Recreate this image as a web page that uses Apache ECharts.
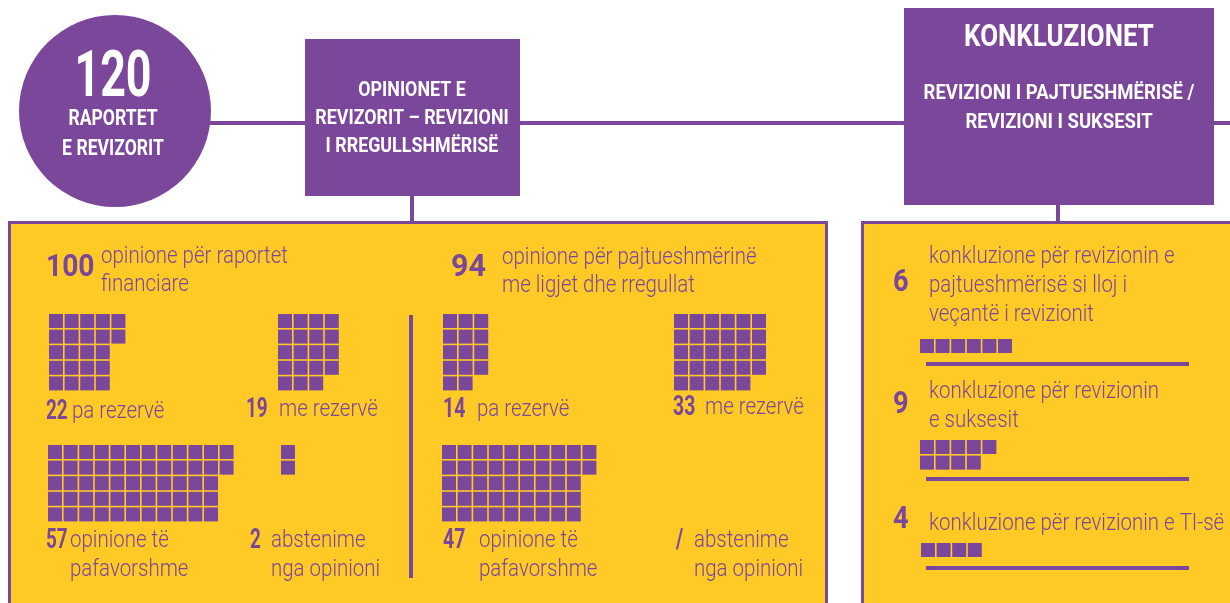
<!DOCTYPE html>
<html>
<head>
<meta charset="utf-8">
<script src="https://cdn.jsdelivr.net/npm/echarts@6/dist/echarts.min.js"></script>
<style>
  html, body { margin: 0; padding: 0; background: #fff; }
  #main { width: 1230px; height: 603px; }
</style>
</head>
<body>
<div id="main"></div>
<script>
// data
const totalReports = 120
const financialTotal = 100
const complianceTotal = 94
const opinionLabels = ['pa rezervë', 'me rezervë', 'opinione të\npafavorshme', 'abstenime\nnga opinioni']
const financialValues = [22, 19, 57, 2]
const financialSquares = [22, 19, 57, 2]
const complianceValues = ['14', '33', '47', '/']
const complianceSquares = [14, 29, 47, 0]   // squares actually drawn in the picture
const conclusionValues = [6, 9, 4]
const conclusionCols = [6, 5, 4]
const conclusionLabels = [
  'konkluzione për revizionin e\npajtueshmërisë si lloj i\nveçantë i revizionit',
  'konkluzione për revizionin\ne suksesit',
  'konkluzione për revizionin e TI-së'
]

const PURPLE = '#7B479B'
const YELLOW = '#FFC926'
const FONT = "Roboto, 'Noto Sans', sans-serif"
const PITCH = 15.6

let chart = echarts.init(document.getElementById('main'))

// waffle blocks: where each one sits
const waffles = [
  {n: financialSquares[0], x: 49, y: 314, rows: 5},
  {n: financialSquares[1], x: 278, y: 314, rows: 5},
  {n: financialSquares[2], x: 48, y: 445, rows: 5},
  {n: financialSquares[3], x: 281, y: 445, rows: 5},
  {n: complianceSquares[0], x: 443, y: 314, rows: 5},
  {n: complianceSquares[1], x: 674, y: 314, rows: 5},
  {n: complianceSquares[2], x: 442, y: 445, rows: 5},
  {n: conclusionValues[0], x: 920, y: 339, cols: conclusionCols[0]},
  {n: conclusionValues[1], x: 920, y: 440, cols: conclusionCols[1]},
  {n: conclusionValues[2], x: 921, y: 543, cols: conclusionCols[2]}
]

let grids = [], xAxes = [], yAxes = [], series = []
waffles.forEach((w, k) => {
  let pts = []
  let rows, cols
  if (w.rows) {
    rows = w.rows
    cols = Math.max(1, Math.ceil(w.n / rows))
    for (let i = 0; i < w.n; i++) pts.push([Math.floor(i / rows), i % rows])
  } else {
    cols = w.cols
    rows = Math.ceil(w.n / cols)
    for (let i = 0; i < w.n; i++) pts.push([i % cols, Math.floor(i / cols)])
  }
  grids.push({left: w.x + 7 - PITCH / 2, top: w.y + 7 - PITCH / 2, width: cols * PITCH, height: rows * PITCH})
  xAxes.push({type: 'value', gridIndex: k, min: -0.5, max: cols - 0.5, show: false})
  yAxes.push({type: 'value', gridIndex: k, min: -0.5, max: rows - 0.5, inverse: true, show: false})
  series.push({
    type: 'scatter', xAxisIndex: k, yAxisIndex: k, symbol: 'rect', symbolSize: 14,
    itemStyle: {color: PURPLE, opacity: 1}, silent: true, z: 10, data: pts
  })
})

// text squeezed horizontally to look like the narrow font of the original
function txt(x, y, text, size, opts) {
  opts = opts || {}
  return {
    type: 'text', z: 5, x: x, y: y, scaleX: opts.sx || 0.89,
    style: {
      x: 0, y: 0, text: text, fill: opts.fill || PURPLE,
      fontSize: size, fontWeight: opts.bold ? 'bold' : 300,
      fontFamily: FONT, align: opts.align || 'left',
      verticalAlign: 'middle', lineHeight: opts.lh || size * 1.3
    }
  }
}

let graphic = [
  // connector lines
  {type: 'rect', shape: {x: 190, y: 121, width: 1040, height: 4}, style: {fill: PURPLE}, z: 1},
  {type: 'rect', shape: {x: 410, y: 190, width: 4, height: 34}, style: {fill: PURPLE}, z: 1},
  {type: 'rect', shape: {x: 1056, y: 200, width: 4, height: 24}, style: {fill: PURPLE}, z: 1},
  // header shapes
  {type: 'circle', shape: {cx: 115, cy: 111, r: 96}, style: {fill: PURPLE}, z: 2},
  {type: 'rect', shape: {x: 305, y: 39, width: 215, height: 157}, style: {fill: PURPLE}, z: 2},
  {type: 'rect', shape: {x: 904, y: 8, width: 310, height: 197}, style: {fill: PURPLE}, z: 2},
  // yellow panels
  {type: 'rect', shape: {x: 9.5, y: 222.5, width: 817, height: 390}, style: {fill: YELLOW, stroke: PURPLE, lineWidth: 3}, z: 2},
  {type: 'rect', shape: {x: 862.5, y: 222.5, width: 400, height: 390}, style: {fill: YELLOW, stroke: PURPLE, lineWidth: 3}, z: 2},
  {type: 'rect', shape: {x: 409, y: 315, width: 4, height: 263}, style: {fill: PURPLE}, z: 3},
  // header texts
  txt(113, 80, String(totalReports), 64, {bold: true, fill: '#fff', align: 'center', sx: 0.7}),
  txt(113, 134, 'RAPORTET\nE REVIZORIT', 22, {bold: true, fill: '#fff', align: 'center', lh: 30, sx: 0.8}),
  txt(412, 119, 'OPINIONET E\nREVIZORIT – REVIZIONI\nI RREGULLSHMËRISË', 21, {bold: true, fill: '#fff', align: 'center', lh: 28, sx: 0.85}),
  txt(1059, 38, 'KONKLUZIONET', 32, {bold: true, fill: '#fff', align: 'center', sx: 0.81}),
  txt(1059, 108, 'REVIZIONI I PAJTUESHMËRISË /\nREVIZIONI I SUKSESIT', 21, {bold: true, fill: '#fff', align: 'center', lh: 29, sx: 0.88}),
  // panel headings
  txt(46, 268, String(financialTotal), 32, {bold: true, sx: 0.88}),
  txt(101, 271, 'opinione për raportet\nfinanciare', 23, {lh: 28}),
  txt(451, 268, String(complianceTotal), 32, {bold: true, sx: 0.95}),
  txt(502, 272, 'opinione për pajtueshmërinë\nme ligjet dhe rregullat', 23, {lh: 28})
]

// waffle captions
const capPos = [
  {nx: 46, tx: 72, y: 412}, {nx: 246, tx: 279, y: 410},
  {nx: 46, tx: 70, y: 541}, {nx: 250, tx: 271, y: 541}
]
const capPos2 = [
  {nx: 443, tx: 477, y: 410}, {nx: 673, tx: 705, y: 408},
  {nx: 443, tx: 479, y: 541}, {nx: 676, tx: 694, y: 541}
]
opinionLabels.forEach((lab, i) => {
  let p = capPos[i], q = capPos2[i]
  let two = lab.indexOf('\n') > 0
  graphic.push(txt(p.nx, p.y, String(financialValues[i]), 27, {bold: true, sx: 0.7}))
  graphic.push(txt(p.tx, p.y + (two ? 14.5 : 0), lab, 23, {lh: 29}))
  graphic.push(txt(q.nx, q.y, complianceValues[i], 27, {bold: true, sx: 0.72}))
  graphic.push(txt(q.tx, q.y + (two ? 14.5 : 0), lab, 23, {lh: 29}))
})

// conclusions
const conclPos = [
  {ny: 283, ty: 286, line: 364},
  {ny: 405, ty: 407, line: 479},
  {ny: 520, ty: 524, line: 568}
]
conclusionLabels.forEach((lab, i) => {
  let p = conclPos[i]
  graphic.push(txt(893, p.ny, String(conclusionValues[i]), 32, {bold: true, sx: 0.85}))
  graphic.push(txt(929, p.ty, lab, 23, {lh: 29}))
  graphic.push({type: 'rect', shape: {x: 926, y: p.line - 2, width: 263, height: 4}, style: {fill: PURPLE}, z: 3})
})

chart.setOption({
  backgroundColor: '#fff',
  animation: false,
  graphic: graphic,
  grid: grids,
  xAxis: xAxes,
  yAxis: yAxes,
  series: series
})
</script>
</body>
</html>
